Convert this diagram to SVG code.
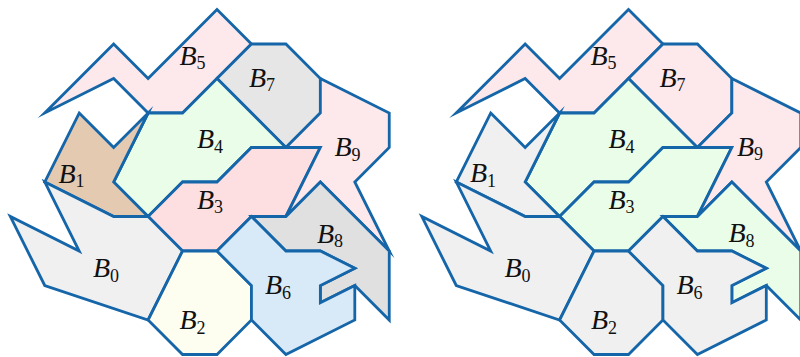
<svg xmlns="http://www.w3.org/2000/svg" width="800" height="357" viewBox="0 0 800 357">
<style>
.r{stroke:#1565a9;stroke-width:2.8;stroke-linejoin:miter;stroke-miterlimit:10}
.pk{fill:#fde9eb}.pk2{fill:#fddfe2}.gr{fill:#e9fde9}.g7{fill:#e6e6e6}.g8{fill:#e0e0e0}
.lg{fill:#f0f0f0}.iv{fill:#fefef0}.bl{fill:#d8eaf8}.tn{fill:#e3cab1}
.t{font-family:"Liberation Serif","DejaVu Serif",serif;font-style:italic;font-size:28px;fill:#111;text-anchor:middle}
.s{font-style:normal;font-size:18px}
</style>
<rect width="800" height="357" fill="#fff"/>
<g id="left">
<g id="L-B5"><polygon class="r pk" points="217,9.5 251.45,44 217,78.5 182.55,113 148.1,113 113.65,78.5 44.75,113 113.65,44 148.1,78.5"/><text class="t" x="192.5" y="64.5">B<tspan class="s" dy="4.5">5</tspan></text></g>
<g id="L-B7"><polygon class="r g7" points="251.45,44 285.9,44 320.35,78.5 320.35,113 285.9,147.5 217,78.5"/><text class="t" x="262" y="86.5">B<tspan class="s" dy="4.5">7</tspan></text></g>
<g id="L-B4"><polygon class="r gr" points="148.1,113 182.55,113 217,78.5 285.9,147.5 251.45,147.5 217,182 182.55,182 148.1,216.5 113.65,182"/><text class="t" x="210" y="148">B<tspan class="s" dy="4.5">4</tspan></text></g>
<g id="L-B1"><polygon class="r tn" points="79.2,113 113.65,147.5 148.1,113 113.65,182 148.1,216.5 113.65,216.5 44.75,182"/><text class="t" x="71.5" y="182.5">B<tspan class="s" dy="4.5">1</tspan></text></g>
<g id="L-B3"><polygon class="r pk2" points="148.1,216.5 182.55,182 217,182 251.45,147.5 320.35,147.5 285.9,216.5 251.45,216.5 217,251 182.55,251"/><text class="t" x="210" y="208.5">B<tspan class="s" dy="4.5">3</tspan></text></g>
<g id="L-B9"><polygon class="r pk" points="320.35,78.5 389.25,113 389.25,147.5 354.8,182 389.25,251 320.35,182 285.9,216.5 320.35,147.5 285.9,147.5 320.35,113"/><text class="t" x="347.5" y="156">B<tspan class="s" dy="4.5">9</tspan></text></g>
<g id="L-B0"><polygon class="r lg" points="44.75,182 113.65,216.5 148.1,216.5 182.55,251 148.1,320 44.75,285.5 10.3,216.5 79.2,251"/><text class="t" x="106" y="277">B<tspan class="s" dy="4.5">0</tspan></text></g>
<g id="L-B2"><polygon class="r iv" points="182.55,251 217,251 251.45,285.5 251.45,320 217,354.5 182.55,354.5 148.1,320"/><text class="t" x="192.5" y="329">B<tspan class="s" dy="4.5">2</tspan></text></g>
<g id="L-B8"><polygon class="r g8" points="320.35,182 389.25,251 389.25,320 354.8,285.5 320.35,302.75 320.35,285.5 354.8,268.25 320.35,251 285.9,251 251.45,216.5 285.9,216.5"/><text class="t" x="330" y="242.5">B<tspan class="s" dy="4.5">8</tspan></text></g>
<g id="L-B6"><polygon class="r bl" points="217,251 251.45,216.5 285.9,251 320.35,251 354.8,268.25 320.35,285.5 320.35,302.75 354.8,285.5 354.8,320 285.9,354.5 251.45,320 251.45,285.5"/><text class="t" x="278" y="294">B<tspan class="s" dy="4.5">6</tspan></text></g>
</g>
<g id="right">
<g id="R-B5"><polygon class="r pk" points="628.5,9.5 662.95,44 628.5,78.5 594.05,113 559.6,113 525.15,78.5 456.25,113 525.15,44 559.6,78.5"/><text class="t" x="603.5" y="64.5">B<tspan class="s" dy="4.5">5</tspan></text></g>
<g id="R-B7"><polygon class="r pk" points="662.95,44 697.4,44 731.85,78.5 731.85,113 697.4,147.5 628.5,78.5"/><text class="t" x="672.5" y="86.5">B<tspan class="s" dy="4.5">7</tspan></text></g>
<g id="R-B4"><polygon class="r gr" points="559.6,113 594.05,113 628.5,78.5 697.4,147.5 662.95,147.5 628.5,182 594.05,182 559.6,216.5 525.15,182"/><text class="t" x="621.5" y="148">B<tspan class="s" dy="4.5">4</tspan></text></g>
<g id="R-B1"><polygon class="r lg" points="490.7,113 525.15,147.5 559.6,113 525.15,182 559.6,216.5 525.15,216.5 456.25,182"/><text class="t" x="483" y="182">B<tspan class="s" dy="4.5">1</tspan></text></g>
<g id="R-B3"><polygon class="r gr" points="559.6,216.5 594.05,182 628.5,182 662.95,147.5 731.85,147.5 697.4,216.5 662.95,216.5 628.5,251 594.05,251"/><text class="t" x="621.5" y="208.5">B<tspan class="s" dy="4.5">3</tspan></text></g>
<g id="R-B9"><polygon class="r pk" points="731.85,78.5 800.75,113 800.75,147.5 766.3,182 800.75,251 731.85,182 697.4,216.5 731.85,147.5 697.4,147.5 731.85,113"/><text class="t" x="750" y="155.5">B<tspan class="s" dy="4.5">9</tspan></text></g>
<g id="R-B0"><polygon class="r lg" points="456.25,182 525.15,216.5 559.6,216.5 594.05,251 559.6,320 456.25,285.5 421.8,216.5 490.7,251"/><text class="t" x="517.5" y="277">B<tspan class="s" dy="4.5">0</tspan></text></g>
<g id="R-B2"><polygon class="r lg" points="594.05,251 628.5,251 662.95,285.5 662.95,320 628.5,354.5 594.05,354.5 559.6,320"/><text class="t" x="604" y="329">B<tspan class="s" dy="4.5">2</tspan></text></g>
<g id="R-B8"><polygon class="r gr" points="731.85,182 800.75,251 800.75,320 766.3,285.5 731.85,302.75 731.85,285.5 766.3,268.25 731.85,251 697.4,251 662.95,216.5 697.4,216.5"/><text class="t" x="741.5" y="242">B<tspan class="s" dy="4.5">8</tspan></text></g>
<g id="R-B6"><polygon class="r lg" points="628.5,251 662.95,216.5 697.4,251 731.85,251 766.3,268.25 731.85,285.5 731.85,302.75 766.3,285.5 766.3,320 697.4,354.5 662.95,320 662.95,285.5"/><text class="t" x="689.5" y="294">B<tspan class="s" dy="4.5">6</tspan></text></g>
</g>
<g id="connectors"/>
</svg>
